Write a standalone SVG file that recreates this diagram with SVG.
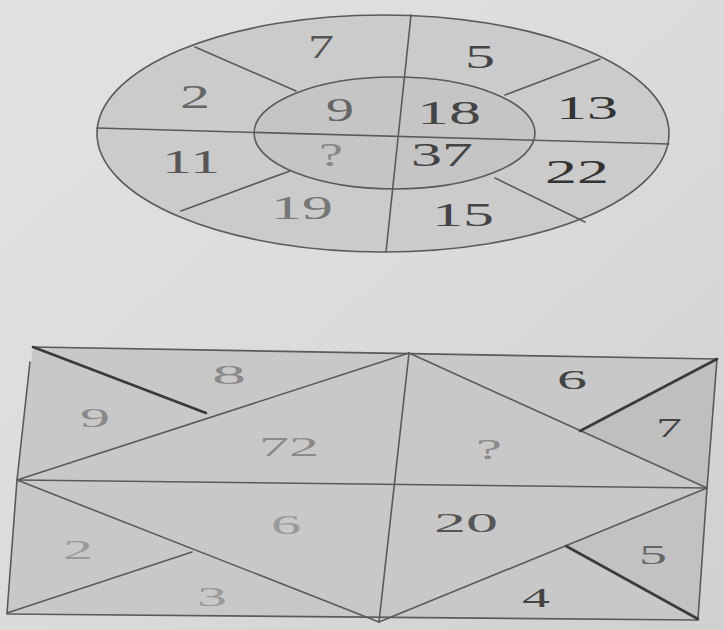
<svg xmlns="http://www.w3.org/2000/svg" width="724" height="630" viewBox="0 0 724 630">
<defs>
<linearGradient id="bg" x1="0" y1="0" x2="1" y2="1">
<stop offset="0" stop-color="#e2e2e2"/>
<stop offset="0.5" stop-color="#dbdbdb"/>
<stop offset="1" stop-color="#d0d0d0"/>
</linearGradient>
</defs>
<style>
.ln{stroke:#5a5a5a;stroke-width:1.6;stroke-linecap:round}
.tk{stroke:#3a3a3a;stroke-width:2.6;stroke-linecap:round}
.t{font-family:"Liberation Serif","DejaVu Serif",serif;text-anchor:middle}
.a{font-size:33px}
.b{font-size:27px}
</style>
<rect x="0" y="0" width="724" height="630" fill="url(#bg)"/>
<g id="circle-figure">
<ellipse cx="383" cy="133.5" rx="286" ry="118.5" fill="#cbcbcb" class="ln"/>
<ellipse cx="394.5" cy="133" rx="140.5" ry="56" fill="#c5c5c5" class="ln"/>
<g id="circle-lines">
<line class="ln" x1="97" y1="128" x2="669" y2="144"/>
<line class="ln" x1="411" y1="15" x2="386" y2="252"/>
<line class="ln" x1="195" y1="47" x2="296" y2="91"/>
<line class="ln" x1="600" y1="59" x2="505" y2="95"/>
<line class="ln" x1="181" y1="211" x2="290" y2="171"/>
<line class="ln" x1="495" y1="178" x2="585" y2="222"/>
</g>
<g id="circle-labels" class="t a">
<text x="321" y="58" textLength="26" lengthAdjust="spacingAndGlyphs" fill="#555">7</text>
<text x="480" y="68" textLength="30" lengthAdjust="spacingAndGlyphs" fill="#444">5</text>
<text x="195" y="108" textLength="30" lengthAdjust="spacingAndGlyphs" fill="#666">2</text>
<text x="340" y="121" textLength="28" lengthAdjust="spacingAndGlyphs" fill="#666">9</text>
<text x="449" y="124" textLength="64" lengthAdjust="spacingAndGlyphs" fill="#444">18</text>
<text x="587" y="119" textLength="62" lengthAdjust="spacingAndGlyphs" fill="#333">13</text>
<text x="191" y="173" textLength="58" lengthAdjust="spacingAndGlyphs" fill="#555">11</text>
<text x="331" y="166" textLength="24" lengthAdjust="spacingAndGlyphs" fill="#888">?</text>
<text x="442" y="166" textLength="62" lengthAdjust="spacingAndGlyphs" fill="#444">37</text>
<text x="577" y="183" textLength="64" lengthAdjust="spacingAndGlyphs" fill="#333">22</text>
<text x="302" y="219" textLength="62" lengthAdjust="spacingAndGlyphs" fill="#777">19</text>
<text x="463" y="226" textLength="62" lengthAdjust="spacingAndGlyphs" fill="#444">15</text>
</g>
</g>
<g id="rect-figure">
<polygon points="33,347 717,359 707,488 698,619 7,613 17,480" fill="#c8c8c8"/>
<polygon points="580,431 717,359 707,488" fill="#bfbfbf"/>
<polygon points="566,546 707,488 698,619" fill="#c2c2c2"/>
<g id="rect-lines">
<line class="ln" x1="33" y1="347" x2="717" y2="359"/>
<line class="ln" x1="717" y1="359" x2="707" y2="488"/>
<line class="ln" x1="707" y1="488" x2="698" y2="619"/>
<line class="ln" x1="7" y1="614" x2="698" y2="620"/>
<line class="ln" x1="30" y1="362" x2="17" y2="480"/>
<line class="ln" x1="17" y1="480" x2="7" y2="613"/>
<line class="ln" x1="17" y1="480" x2="707" y2="488"/>
<line class="ln" x1="409" y1="353" x2="379" y2="622"/>
<line class="ln" x1="17" y1="480" x2="409" y2="353"/>
<line class="ln" x1="409" y1="353" x2="707" y2="488"/>
<line class="ln" x1="17" y1="480" x2="379" y2="622"/>
<line class="ln" x1="379" y1="622" x2="707" y2="488"/>
<line class="ln" x1="7" y1="613" x2="192" y2="552"/>
<line class="tk" x1="33" y1="347" x2="206" y2="413"/>
<line class="tk" x1="717" y1="359" x2="580" y2="431"/>
<line class="tk" x1="566" y1="546" x2="698" y2="619"/>
</g>
<g id="rect-labels" class="t b">
<text x="229" y="384" textLength="34" lengthAdjust="spacingAndGlyphs" fill="#8a8a8a">8</text>
<text x="95" y="427" textLength="30" lengthAdjust="spacingAndGlyphs" fill="#8a8a8a">9</text>
<text x="289" y="456" textLength="60" lengthAdjust="spacingAndGlyphs" fill="#8a8a8a">72</text>
<text x="489" y="459" textLength="26" lengthAdjust="spacingAndGlyphs" font-size="30" fill="#8a8a8a">?</text>
<text x="572" y="389" textLength="30" lengthAdjust="spacingAndGlyphs" fill="#444">6</text>
<text x="669" y="437" textLength="26" lengthAdjust="spacingAndGlyphs" fill="#444">7</text>
<text x="286" y="534" textLength="30" lengthAdjust="spacingAndGlyphs" fill="#999">6</text>
<text x="466" y="532" textLength="64" lengthAdjust="spacingAndGlyphs" fill="#555">20</text>
<text x="78" y="559" textLength="30" lengthAdjust="spacingAndGlyphs" fill="#999">2</text>
<text x="212" y="606" textLength="30" lengthAdjust="spacingAndGlyphs" fill="#999">3</text>
<text x="536" y="607" textLength="28" lengthAdjust="spacingAndGlyphs" fill="#444">4</text>
<text x="653" y="564" textLength="28" lengthAdjust="spacingAndGlyphs" fill="#666">5</text>
</g>
</g>
</svg>
